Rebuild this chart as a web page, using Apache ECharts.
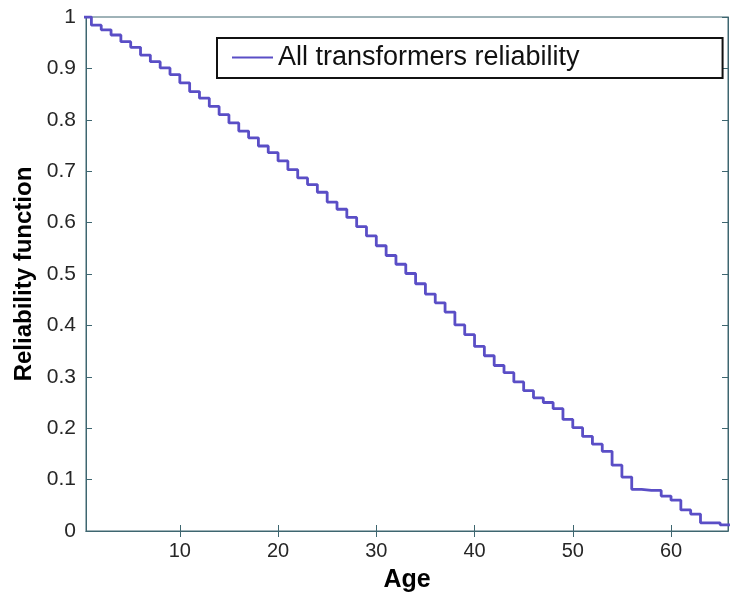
<!DOCTYPE html>
<html>
<head>
<meta charset="utf-8">
<script src="https://cdn.jsdelivr.net/npm/echarts@6/dist/echarts.min.js"></script>
<style>
html,body{margin:0;padding:0;background:#fff;}
#chart{width:730px;height:598px;}
</style>
</head>
<body>
<div id="chart"></div>
<script>
const ages = [0,1,2,3,4,5,6,7,8,9,10,11,12,13,14,15,16,17,18,19,20,21,22,23,24,25,26,27,28,29,30,31,32,33,34,35,36,37,38,39,40,41,42,43,44,45,46,47,48,49,50,51,52,53,54,55,56,57,58,59,60,61,62,63,64,65,66];
const reliability = [1.0,0.984,0.975,0.965,0.952,0.941,0.926,0.913,0.901,0.888,0.872,0.855,0.842,0.826,0.810,0.794,0.778,0.765,0.749,0.736,0.720,0.703,0.687,0.674,0.659,0.640,0.626,0.610,0.592,0.574,0.555,0.536,0.519,0.501,0.481,0.461,0.444,0.426,0.401,0.382,0.359,0.341,0.322,0.308,0.290,0.273,0.259,0.250,0.238,0.217,0.201,0.184,0.169,0.155,0.128,0.105,0.081,0.079,0.079,0.068,0.060,0.041,0.033,0.016,0.016,0.012,0.012];
const xTicks = [10,20,30,40,50,60];
const seriesName = 'All transformers reliability';
const xTitle = 'Age';
const yTitle = 'Reliability function';

const axisColor = '#3e6670';
const labelColor = '#262626';
const font = 'Liberation Sans, Arial, sans-serif';

const chart = echarts.init(document.getElementById('chart'), null, {renderer: 'canvas'});
const data = ages.map((a, i) => [a, reliability[i]]);

chart.setOption({
  animation: false,
  backgroundColor: '#fff',
  grid: {left: 86, right: 2, top: 17, bottom: 65, show: true, borderColor: axisColor, borderWidth: 1},
  legend: {
    left: 217, top: 38,
    data: [{name: seriesName, icon: 'rect'}],
    itemWidth: 41, itemHeight: 2, itemGap: 5,
    padding: [6, 143, 7, 15],
    borderColor: '#111', borderWidth: 2,
    backgroundColor: '#fff',
    textStyle: {fontFamily: font, fontSize: 27, color: '#111'},
    selectedMode: false
  },
  xAxis: [{
    type: 'value', min: 0.45, max: 65.8, position: 'bottom',
    axisLine: {show: true, lineStyle: {color: axisColor, width: 1}},
    axisTick: {show: true, inside: true, length: 6, customValues: xTicks, lineStyle: {color: axisColor}},
    axisLabel: {customValues: xTicks, margin: 10, color: labelColor, fontFamily: font, fontSize: 20},
    splitLine: {show: false},
    name: xTitle, nameLocation: 'middle', nameGap: 37,
    nameTextStyle: {fontFamily: font, fontSize: 25, fontWeight: 'bold', color: '#000'}
  }, {
    type: 'value', min: 0.45, max: 65.8, position: 'top',
    axisLine: {show: true, lineStyle: {color: axisColor, width: 1}},
    axisTick: {show: true, inside: true, length: 6, customValues: xTicks, lineStyle: {color: axisColor}},
    axisLabel: {show: false},
    splitLine: {show: false}
  }],
  yAxis: [{
    type: 'value', min: 0, max: 1, interval: 0.1, position: 'left',
    axisLine: {show: true, lineStyle: {color: axisColor, width: 1}},
    axisTick: {show: true, inside: true, length: 6, lineStyle: {color: axisColor}},
    axisLabel: {margin: 10, color: labelColor, fontFamily: font, fontSize: 21},
    splitLine: {show: false},
    name: yTitle, nameLocation: 'middle', nameGap: 48,
    nameTextStyle: {fontFamily: font, fontSize: 24, fontWeight: 'bold', color: '#000'}
  }, {
    type: 'value', min: 0, max: 1, interval: 0.1, position: 'right',
    axisLine: {show: true, lineStyle: {color: axisColor, width: 1}},
    axisTick: {show: true, inside: true, length: 6, lineStyle: {color: axisColor}},
    axisLabel: {show: false},
    splitLine: {show: false}
  }],
  series: [{
    name: seriesName,
    type: 'line',
    step: 'end',
    data: data,
    symbol: 'none',
    clip: true,
    color: '#5a4ec6',
    lineStyle: {color: '#5a4ec6', width: 2.8}
  }]
});
</script>
</body>
</html>
